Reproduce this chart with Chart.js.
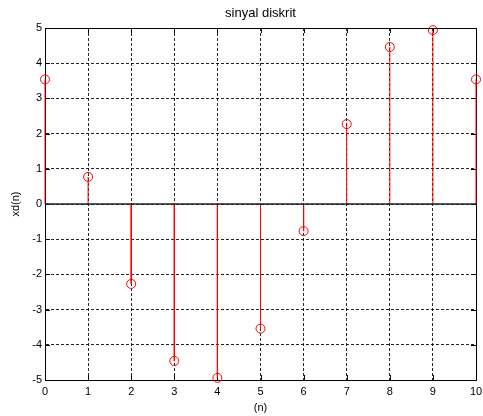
<!DOCTYPE html>
<html>
<head>
<meta charset="utf-8">
<script src="https://cdn.jsdelivr.net/npm/chart.js@4.4.1/dist/chart.umd.min.js"></script>
<style>
html,body{margin:0;padding:0;background:#fff;}
#wrap{width:483px;height:416px;position:relative;}
</style>
</head>
<body>
<div id="wrap"><canvas id="c" width="483" height="416"></canvas></div>
<script>
const nValues = [0,1,2,3,4,5,6,7,8,9,10];
const xdValues = [3.54,0.77,-2.27,-4.46,-4.94,-3.54,-0.77,2.27,4.46,4.94,3.54];
const xTicks = [0,1,2,3,4,5,6,7,8,9,10];
const yTicks = [-5,-4,-3,-2,-1,0,1,2,3,4,5];
const titleText = 'sinyal diskrit';
const xLabel = '(n)';
const yLabel = 'xd(n)';

const stemData = [];
nValues.forEach((n,i)=>{
  stemData.push({x:n,y:0});
  stemData.push({x:n,y:xdValues[i]});
  stemData.push({x:n,y:null});
});
const markerData = nValues.map((n,i)=>({x:n,y:xdValues[i]}));
const baseData = [{x:xTicks[0],y:0},{x:xTicks[xTicks.length-1],y:0}];

const FONT = 'Liberation Sans, Arial, sans-serif';

const boxPlugin = {
  id:'boxTicks',
  beforeDatasetsDraw(chart){
    const {ctx, chartArea:a, scales:{x,y}} = chart;
    ctx.save();
    ctx.strokeStyle = '#000';
    ctx.lineWidth = 1;
    ctx.setLineDash([]);
    ctx.beginPath();
    xTicks.forEach(v=>{
      const px = Math.round(x.getPixelForValue(v))+0.5;
      ctx.moveTo(px,a.bottom); ctx.lineTo(px,a.bottom-5);
      ctx.moveTo(px,a.top); ctx.lineTo(px,a.top+5);
    });
    yTicks.forEach(v=>{
      const py = Math.round(y.getPixelForValue(v))+0.5;
      ctx.moveTo(a.left,py); ctx.lineTo(a.left+5,py);
      ctx.moveTo(a.right,py); ctx.lineTo(a.right-5,py);
    });
    ctx.stroke();
    ctx.strokeRect(Math.round(a.left)+0.5, Math.round(a.top)+0.5, Math.round(a.right-a.left), Math.round(a.bottom-a.top));
    ctx.restore();
  }
};

new Chart(document.getElementById('c'), {
  type:'line',
  data:{
    datasets:[
      {data:stemData, borderColor:'#ff0000', borderWidth:1, pointRadius:0, spanGaps:false, fill:false, tension:0, order:2, clip:false},
      {data:baseData, borderColor:'#222', borderWidth:1.5, pointRadius:0, fill:false, order:1},
      {data:markerData, showLine:false, pointStyle:'circle', pointRadius:4.5, pointBorderColor:'#ff0000', pointBackgroundColor:'rgba(0,0,0,0)', pointBorderWidth:1, borderColor:'#ff0000', order:0, clip:false}
    ]
  },
  options:{
    responsive:false,
    animation:false,
    events:[],
    layout:{padding:{left:0,right:7,top:0,bottom:0}},
    plugins:{
      legend:{display:false},
      tooltip:{enabled:false},
      title:{display:true, fullSize:false, text:titleText, color:'#000', font:{family:FONT,size:13,weight:'normal'}, padding:{top:6,bottom:6.4}}
    },
    scales:{
      x:{
        type:'linear', min:0, max:10,
        afterBuildTicks(s){ s.ticks = xTicks.map(v=>({value:v})); },
        afterFit(s){ s.height = 36; s.paddingRight = 0; s.paddingLeft = 0; },
        ticks:{color:'#000', font:{family:FONT,size:11}, padding:5, maxRotation:0, autoSkip:false},
        grid:{color:'rgba(0,0,0,0.85)', lineWidth:1, drawTicks:false},
        border:{display:true, color:'#000', width:1, dash:[3,2]},
        title:{display:true, text:xLabel, color:'#000', font:{family:FONT,size:11}, padding:{top:0,bottom:1}}
      },
      y:{
        type:'linear', min:-5, max:5,
        afterBuildTicks(s){ s.ticks = yTicks.map(v=>({value:v})); },
        afterFit(s){ s.width = 45; s.paddingTop = 0; s.paddingBottom = 0; },
        ticks:{color:'#000', font:{family:FONT,size:11}, padding:3, autoSkip:false},
        grid:{color:'rgba(0,0,0,0.85)', lineWidth:1, drawTicks:false},
        border:{display:true, color:'#000', width:1, dash:[3,2]},
        title:{display:true, text:yLabel, color:'#000', font:{family:FONT,size:11}, padding:{top:9,bottom:0}}
      }
    }
  },
  plugins:[boxPlugin]
});
</script>
</body>
</html>
